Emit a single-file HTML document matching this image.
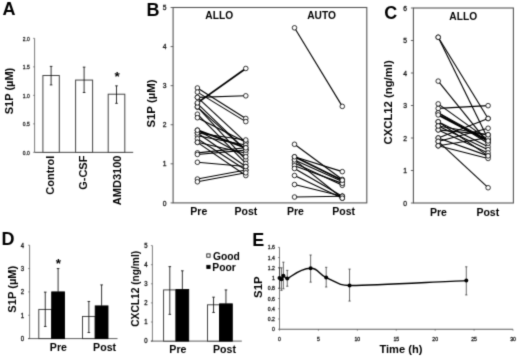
<!DOCTYPE html>
<html><head><meta charset="utf-8"><title>Figure</title>
<style>
html,body{margin:0;padding:0;background:#fff;}
body{width:520px;height:362px;overflow:hidden;font-family:"Liberation Sans",sans-serif;}
svg{display:block;font-family:"Liberation Sans",sans-serif;}
</style></head><body>
<svg width="520" height="362" viewBox="0 0 520 362">
<defs><filter id="soft" x="0" y="0" width="520" height="362" filterUnits="userSpaceOnUse" color-interpolation-filters="sRGB">
<feConvolveMatrix order="3" kernelMatrix="0.01917 0.10012 0.01917 0.10012 0.52283 0.10012 0.01917 0.10012 0.01917" divisor="1" edgeMode="duplicate" preserveAlpha="true"/>
</filter></defs>
<g filter="url(#soft)">
<rect x="0" y="0" width="520" height="362" fill="#fff"/>
<text x="2.60" y="14.90" font-size="18" font-weight="bold" text-anchor="start" fill="#000">A</text>
<line x1="34.60" y1="38.35" x2="34.60" y2="152.35" stroke="#444" stroke-width="0.7"/>
<line x1="34.60" y1="152.35" x2="133.20" y2="152.35" stroke="#333" stroke-width="0.9"/>
<line x1="33.10" y1="152.35" x2="34.60" y2="152.35" stroke="#444" stroke-width="0.6"/>
<text transform="translate(29.70 154.65) scale(0.8 1)" font-size="6.2" text-anchor="end" fill="#1a1a1a" stroke="#1a1a1a" stroke-width="0.3">0.0</text>
<line x1="33.10" y1="123.85" x2="34.60" y2="123.85" stroke="#444" stroke-width="0.6"/>
<text transform="translate(29.70 126.15) scale(0.8 1)" font-size="6.2" text-anchor="end" fill="#1a1a1a" stroke="#1a1a1a" stroke-width="0.3">0.5</text>
<line x1="33.10" y1="95.35" x2="34.60" y2="95.35" stroke="#444" stroke-width="0.6"/>
<text transform="translate(29.70 97.65) scale(0.8 1)" font-size="6.2" text-anchor="end" fill="#1a1a1a" stroke="#1a1a1a" stroke-width="0.3">1.0</text>
<line x1="33.10" y1="66.85" x2="34.60" y2="66.85" stroke="#444" stroke-width="0.6"/>
<text transform="translate(29.70 69.15) scale(0.8 1)" font-size="6.2" text-anchor="end" fill="#1a1a1a" stroke="#1a1a1a" stroke-width="0.3">1.5</text>
<line x1="33.10" y1="38.35" x2="34.60" y2="38.35" stroke="#444" stroke-width="0.6"/>
<text transform="translate(29.70 40.65) scale(0.8 1)" font-size="6.2" text-anchor="end" fill="#1a1a1a" stroke="#1a1a1a" stroke-width="0.3">2.0</text>
<rect x="42.90" y="75.51" width="16.40" height="76.84" fill="#fff" stroke="#444" stroke-width="1.0"/>
<line x1="51.10" y1="66.39" x2="51.10" y2="84.92" stroke="#111" stroke-width="0.85"/>
<line x1="49.80" y1="66.39" x2="52.40" y2="66.39" stroke="#111" stroke-width="0.85"/>
<line x1="49.80" y1="84.92" x2="52.40" y2="84.92" stroke="#111" stroke-width="0.85"/>
<rect x="75.60" y="80.07" width="17.00" height="72.28" fill="#fff" stroke="#444" stroke-width="1.0"/>
<line x1="84.10" y1="67.13" x2="84.10" y2="92.50" stroke="#111" stroke-width="0.85"/>
<line x1="82.80" y1="67.13" x2="85.40" y2="67.13" stroke="#111" stroke-width="0.85"/>
<line x1="82.80" y1="92.50" x2="85.40" y2="92.50" stroke="#111" stroke-width="0.85"/>
<rect x="108.20" y="94.21" width="16.60" height="58.14" fill="#fff" stroke="#444" stroke-width="1.0"/>
<line x1="116.50" y1="85.83" x2="116.50" y2="103.33" stroke="#111" stroke-width="0.85"/>
<line x1="115.20" y1="85.83" x2="117.80" y2="85.83" stroke="#111" stroke-width="0.85"/>
<line x1="115.20" y1="103.33" x2="117.80" y2="103.33" stroke="#111" stroke-width="0.85"/>
<text x="117.20" y="81.20" font-size="13.5" font-weight="bold" text-anchor="middle" fill="#000">*</text>
<text x="12.60" y="91.00" font-size="11" font-weight="bold" text-anchor="middle" fill="#000" transform="rotate(-90 12.60 91.00)">S1P (µM)</text>
<text x="54.50" y="155.60" font-size="11" font-weight="bold" text-anchor="end" fill="#000" transform="rotate(-90 54.50 155.60)">Control</text>
<text x="87.30" y="155.60" font-size="11" font-weight="bold" text-anchor="end" fill="#000" transform="rotate(-90 87.30 155.60)">G-CSF</text>
<text x="120.80" y="155.60" font-size="11" font-weight="bold" text-anchor="end" fill="#000" transform="rotate(-90 120.80 155.60)">AMD3100</text>
<text x="146.40" y="15.70" font-size="18" font-weight="bold" text-anchor="start" fill="#000">B</text>
<rect x="173.10" y="7.50" width="193.70" height="195.40" fill="none" stroke="#555" stroke-width="1.1"/>
<line x1="170.60" y1="202.90" x2="173.10" y2="202.90" stroke="#555" stroke-width="0.9"/>
<text transform="translate(166.60 205.50) scale(0.95 1)" font-size="7.1" text-anchor="end" fill="#1a1a1a" stroke="#1a1a1a" stroke-width="0.3">0</text>
<line x1="170.60" y1="163.82" x2="173.10" y2="163.82" stroke="#555" stroke-width="0.9"/>
<text transform="translate(166.60 166.42) scale(0.95 1)" font-size="7.1" text-anchor="end" fill="#1a1a1a" stroke="#1a1a1a" stroke-width="0.3">1</text>
<line x1="170.60" y1="124.74" x2="173.10" y2="124.74" stroke="#555" stroke-width="0.9"/>
<text transform="translate(166.60 127.34) scale(0.95 1)" font-size="7.1" text-anchor="end" fill="#1a1a1a" stroke="#1a1a1a" stroke-width="0.3">2</text>
<line x1="170.60" y1="85.66" x2="173.10" y2="85.66" stroke="#555" stroke-width="0.9"/>
<text transform="translate(166.60 88.26) scale(0.95 1)" font-size="7.1" text-anchor="end" fill="#1a1a1a" stroke="#1a1a1a" stroke-width="0.3">3</text>
<line x1="170.60" y1="46.58" x2="173.10" y2="46.58" stroke="#555" stroke-width="0.9"/>
<text transform="translate(166.60 49.18) scale(0.95 1)" font-size="7.1" text-anchor="end" fill="#1a1a1a" stroke="#1a1a1a" stroke-width="0.3">4</text>
<line x1="170.60" y1="7.50" x2="173.10" y2="7.50" stroke="#555" stroke-width="0.9"/>
<text transform="translate(166.60 10.10) scale(0.95 1)" font-size="7.1" text-anchor="end" fill="#1a1a1a" stroke="#1a1a1a" stroke-width="0.3">5</text>
<text x="155.20" y="103.50" font-size="11.4" font-weight="bold" text-anchor="middle" fill="#000" transform="rotate(-90 155.20 103.50)">S1P (µM)</text>
<text x="219.20" y="18.90" font-size="10.2" font-weight="bold" text-anchor="middle" fill="#000">ALLO</text>
<text x="321.60" y="18.90" font-size="10.2" font-weight="bold" text-anchor="middle" fill="#000">AUTO</text>
<text x="198.80" y="214.80" font-size="10.5" font-weight="bold" text-anchor="middle" fill="#000">Pre</text>
<text x="246.00" y="214.80" font-size="10.5" font-weight="bold" text-anchor="middle" fill="#000">Post</text>
<text x="295.40" y="214.80" font-size="10.5" font-weight="bold" text-anchor="middle" fill="#000">Pre</text>
<text x="343.70" y="214.80" font-size="10.5" font-weight="bold" text-anchor="middle" fill="#000">Post</text>
<line x1="197.40" y1="88.00" x2="245.80" y2="118.49" stroke="#000" stroke-width="1.1"/>
<line x1="197.40" y1="92.11" x2="245.80" y2="121.61" stroke="#000" stroke-width="1.1"/>
<line x1="197.40" y1="97.38" x2="245.80" y2="142.33" stroke="#000" stroke-width="1.1"/>
<line x1="197.40" y1="97.38" x2="245.80" y2="95.82" stroke="#000" stroke-width="1.1"/>
<line x1="197.40" y1="107.15" x2="245.80" y2="150.14" stroke="#000" stroke-width="1.1"/>
<line x1="197.40" y1="103.64" x2="245.80" y2="150.14" stroke="#000" stroke-width="1.1"/>
<line x1="197.40" y1="106.76" x2="245.80" y2="159.91" stroke="#000" stroke-width="1.1"/>
<line x1="197.40" y1="114.19" x2="245.80" y2="163.43" stroke="#000" stroke-width="1.1"/>
<line x1="197.40" y1="117.71" x2="245.80" y2="142.33" stroke="#000" stroke-width="1.1"/>
<line x1="197.40" y1="132.95" x2="245.80" y2="139.98" stroke="#000" stroke-width="1.1"/>
<line x1="197.40" y1="135.68" x2="245.80" y2="145.06" stroke="#000" stroke-width="1.1"/>
<line x1="197.40" y1="138.81" x2="245.80" y2="170.07" stroke="#000" stroke-width="1.1"/>
<line x1="197.40" y1="142.33" x2="245.80" y2="175.54" stroke="#000" stroke-width="1.1"/>
<line x1="197.40" y1="142.33" x2="245.80" y2="153.27" stroke="#000" stroke-width="1.1"/>
<line x1="197.40" y1="152.88" x2="245.80" y2="147.80" stroke="#000" stroke-width="1.1"/>
<line x1="197.40" y1="154.44" x2="245.80" y2="150.14" stroke="#000" stroke-width="1.1"/>
<line x1="197.40" y1="162.26" x2="245.80" y2="166.56" stroke="#000" stroke-width="1.1"/>
<line x1="197.40" y1="179.06" x2="245.80" y2="170.07" stroke="#000" stroke-width="1.1"/>
<line x1="197.40" y1="181.80" x2="245.80" y2="172.81" stroke="#000" stroke-width="1.1"/>
<line x1="197.40" y1="130.21" x2="245.80" y2="156.79" stroke="#000" stroke-width="1.1"/>
<line x1="197.40" y1="132.95" x2="245.80" y2="166.56" stroke="#000" stroke-width="1.1"/>
<line x1="197.40" y1="102.86" x2="245.80" y2="68.46" stroke="#000" stroke-width="1.8"/>
<line x1="197.40" y1="130.21" x2="245.80" y2="147.80" stroke="#000" stroke-width="1.8"/>
<circle cx="197.40" cy="88.00" r="2.3" fill="#fff" stroke="#000" stroke-width="0.8"/>
<circle cx="245.80" cy="118.49" r="2.3" fill="#fff" stroke="#000" stroke-width="0.8"/>
<circle cx="197.40" cy="92.11" r="2.3" fill="#fff" stroke="#000" stroke-width="0.8"/>
<circle cx="245.80" cy="121.61" r="2.3" fill="#fff" stroke="#000" stroke-width="0.8"/>
<circle cx="197.40" cy="97.38" r="2.3" fill="#fff" stroke="#000" stroke-width="0.8"/>
<circle cx="245.80" cy="142.33" r="2.3" fill="#fff" stroke="#000" stroke-width="0.8"/>
<circle cx="197.40" cy="97.38" r="2.3" fill="#fff" stroke="#000" stroke-width="0.8"/>
<circle cx="245.80" cy="95.82" r="2.3" fill="#fff" stroke="#000" stroke-width="0.8"/>
<circle cx="197.40" cy="107.15" r="2.3" fill="#fff" stroke="#000" stroke-width="0.8"/>
<circle cx="245.80" cy="150.14" r="2.3" fill="#fff" stroke="#000" stroke-width="0.8"/>
<circle cx="197.40" cy="103.64" r="2.3" fill="#fff" stroke="#000" stroke-width="0.8"/>
<circle cx="245.80" cy="150.14" r="2.3" fill="#fff" stroke="#000" stroke-width="0.8"/>
<circle cx="197.40" cy="106.76" r="2.3" fill="#fff" stroke="#000" stroke-width="0.8"/>
<circle cx="245.80" cy="159.91" r="2.3" fill="#fff" stroke="#000" stroke-width="0.8"/>
<circle cx="197.40" cy="114.19" r="2.3" fill="#fff" stroke="#000" stroke-width="0.8"/>
<circle cx="245.80" cy="163.43" r="2.3" fill="#fff" stroke="#000" stroke-width="0.8"/>
<circle cx="197.40" cy="117.71" r="2.3" fill="#fff" stroke="#000" stroke-width="0.8"/>
<circle cx="245.80" cy="142.33" r="2.3" fill="#fff" stroke="#000" stroke-width="0.8"/>
<circle cx="197.40" cy="132.95" r="2.3" fill="#fff" stroke="#000" stroke-width="0.8"/>
<circle cx="245.80" cy="139.98" r="2.3" fill="#fff" stroke="#000" stroke-width="0.8"/>
<circle cx="197.40" cy="135.68" r="2.3" fill="#fff" stroke="#000" stroke-width="0.8"/>
<circle cx="245.80" cy="145.06" r="2.3" fill="#fff" stroke="#000" stroke-width="0.8"/>
<circle cx="197.40" cy="138.81" r="2.3" fill="#fff" stroke="#000" stroke-width="0.8"/>
<circle cx="245.80" cy="170.07" r="2.3" fill="#fff" stroke="#000" stroke-width="0.8"/>
<circle cx="197.40" cy="142.33" r="2.3" fill="#fff" stroke="#000" stroke-width="0.8"/>
<circle cx="245.80" cy="175.54" r="2.3" fill="#fff" stroke="#000" stroke-width="0.8"/>
<circle cx="197.40" cy="142.33" r="2.3" fill="#fff" stroke="#000" stroke-width="0.8"/>
<circle cx="245.80" cy="153.27" r="2.3" fill="#fff" stroke="#000" stroke-width="0.8"/>
<circle cx="197.40" cy="152.88" r="2.3" fill="#fff" stroke="#000" stroke-width="0.8"/>
<circle cx="245.80" cy="147.80" r="2.3" fill="#fff" stroke="#000" stroke-width="0.8"/>
<circle cx="197.40" cy="154.44" r="2.3" fill="#fff" stroke="#000" stroke-width="0.8"/>
<circle cx="245.80" cy="150.14" r="2.3" fill="#fff" stroke="#000" stroke-width="0.8"/>
<circle cx="197.40" cy="162.26" r="2.3" fill="#fff" stroke="#000" stroke-width="0.8"/>
<circle cx="245.80" cy="166.56" r="2.3" fill="#fff" stroke="#000" stroke-width="0.8"/>
<circle cx="197.40" cy="179.06" r="2.3" fill="#fff" stroke="#000" stroke-width="0.8"/>
<circle cx="245.80" cy="170.07" r="2.3" fill="#fff" stroke="#000" stroke-width="0.8"/>
<circle cx="197.40" cy="181.80" r="2.3" fill="#fff" stroke="#000" stroke-width="0.8"/>
<circle cx="245.80" cy="172.81" r="2.3" fill="#fff" stroke="#000" stroke-width="0.8"/>
<circle cx="197.40" cy="130.21" r="2.3" fill="#fff" stroke="#000" stroke-width="0.8"/>
<circle cx="245.80" cy="156.79" r="2.3" fill="#fff" stroke="#000" stroke-width="0.8"/>
<circle cx="197.40" cy="132.95" r="2.3" fill="#fff" stroke="#000" stroke-width="0.8"/>
<circle cx="245.80" cy="166.56" r="2.3" fill="#fff" stroke="#000" stroke-width="0.8"/>
<circle cx="197.40" cy="102.86" r="2.3" fill="#fff" stroke="#000" stroke-width="0.8"/>
<circle cx="245.80" cy="68.46" r="2.3" fill="#fff" stroke="#000" stroke-width="0.8"/>
<circle cx="197.40" cy="130.21" r="2.3" fill="#fff" stroke="#000" stroke-width="0.8"/>
<circle cx="245.80" cy="147.80" r="2.3" fill="#fff" stroke="#000" stroke-width="0.8"/>
<line x1="294.50" y1="27.82" x2="342.30" y2="106.37" stroke="#000" stroke-width="1.1"/>
<line x1="294.50" y1="144.28" x2="342.30" y2="179.45" stroke="#000" stroke-width="1.1"/>
<line x1="294.50" y1="159.91" x2="342.30" y2="181.41" stroke="#000" stroke-width="1.1"/>
<line x1="294.50" y1="163.04" x2="342.30" y2="185.31" stroke="#000" stroke-width="1.1"/>
<line x1="294.50" y1="165.77" x2="342.30" y2="183.36" stroke="#000" stroke-width="1.1"/>
<line x1="294.50" y1="168.51" x2="342.30" y2="196.26" stroke="#000" stroke-width="1.1"/>
<line x1="294.50" y1="175.54" x2="342.30" y2="198.21" stroke="#000" stroke-width="1.1"/>
<line x1="294.50" y1="184.53" x2="342.30" y2="196.26" stroke="#000" stroke-width="1.1"/>
<line x1="294.50" y1="197.04" x2="342.30" y2="196.26" stroke="#000" stroke-width="1.1"/>
<line x1="294.50" y1="156.79" x2="342.30" y2="171.64" stroke="#000" stroke-width="1.1"/>
<line x1="294.50" y1="159.91" x2="342.30" y2="198.21" stroke="#000" stroke-width="1.1"/>
<line x1="294.50" y1="156.79" x2="342.30" y2="180.23" stroke="#000" stroke-width="1.8"/>
<circle cx="294.50" cy="27.82" r="2.3" fill="#fff" stroke="#000" stroke-width="0.8"/>
<circle cx="342.30" cy="106.37" r="2.3" fill="#fff" stroke="#000" stroke-width="0.8"/>
<circle cx="294.50" cy="144.28" r="2.3" fill="#fff" stroke="#000" stroke-width="0.8"/>
<circle cx="342.30" cy="179.45" r="2.3" fill="#fff" stroke="#000" stroke-width="0.8"/>
<circle cx="294.50" cy="159.91" r="2.3" fill="#fff" stroke="#000" stroke-width="0.8"/>
<circle cx="342.30" cy="181.41" r="2.3" fill="#fff" stroke="#000" stroke-width="0.8"/>
<circle cx="294.50" cy="163.04" r="2.3" fill="#fff" stroke="#000" stroke-width="0.8"/>
<circle cx="342.30" cy="185.31" r="2.3" fill="#fff" stroke="#000" stroke-width="0.8"/>
<circle cx="294.50" cy="165.77" r="2.3" fill="#fff" stroke="#000" stroke-width="0.8"/>
<circle cx="342.30" cy="183.36" r="2.3" fill="#fff" stroke="#000" stroke-width="0.8"/>
<circle cx="294.50" cy="168.51" r="2.3" fill="#fff" stroke="#000" stroke-width="0.8"/>
<circle cx="342.30" cy="196.26" r="2.3" fill="#fff" stroke="#000" stroke-width="0.8"/>
<circle cx="294.50" cy="175.54" r="2.3" fill="#fff" stroke="#000" stroke-width="0.8"/>
<circle cx="342.30" cy="198.21" r="2.3" fill="#fff" stroke="#000" stroke-width="0.8"/>
<circle cx="294.50" cy="184.53" r="2.3" fill="#fff" stroke="#000" stroke-width="0.8"/>
<circle cx="342.30" cy="196.26" r="2.3" fill="#fff" stroke="#000" stroke-width="0.8"/>
<circle cx="294.50" cy="197.04" r="2.3" fill="#fff" stroke="#000" stroke-width="0.8"/>
<circle cx="342.30" cy="196.26" r="2.3" fill="#fff" stroke="#000" stroke-width="0.8"/>
<circle cx="294.50" cy="156.79" r="2.3" fill="#fff" stroke="#000" stroke-width="0.8"/>
<circle cx="342.30" cy="171.64" r="2.3" fill="#fff" stroke="#000" stroke-width="0.8"/>
<circle cx="294.50" cy="159.91" r="2.3" fill="#fff" stroke="#000" stroke-width="0.8"/>
<circle cx="342.30" cy="198.21" r="2.3" fill="#fff" stroke="#000" stroke-width="0.8"/>
<circle cx="294.50" cy="156.79" r="2.3" fill="#fff" stroke="#000" stroke-width="0.8"/>
<circle cx="342.30" cy="180.23" r="2.3" fill="#fff" stroke="#000" stroke-width="0.8"/>
<text x="384.20" y="19.20" font-size="18" font-weight="bold" text-anchor="start" fill="#000">C</text>
<rect x="413.40" y="8.00" width="100.00" height="195.00" fill="none" stroke="#555" stroke-width="1.1"/>
<line x1="410.90" y1="203.00" x2="413.40" y2="203.00" stroke="#555" stroke-width="0.9"/>
<text transform="translate(407.00 205.70) scale(0.95 1)" font-size="7.1" text-anchor="end" fill="#1a1a1a" stroke="#1a1a1a" stroke-width="0.3">0</text>
<line x1="410.90" y1="170.50" x2="413.40" y2="170.50" stroke="#555" stroke-width="0.9"/>
<text transform="translate(407.00 173.20) scale(0.95 1)" font-size="7.1" text-anchor="end" fill="#1a1a1a" stroke="#1a1a1a" stroke-width="0.3">1</text>
<line x1="410.90" y1="138.00" x2="413.40" y2="138.00" stroke="#555" stroke-width="0.9"/>
<text transform="translate(407.00 140.70) scale(0.95 1)" font-size="7.1" text-anchor="end" fill="#1a1a1a" stroke="#1a1a1a" stroke-width="0.3">2</text>
<line x1="410.90" y1="105.50" x2="413.40" y2="105.50" stroke="#555" stroke-width="0.9"/>
<text transform="translate(407.00 108.20) scale(0.95 1)" font-size="7.1" text-anchor="end" fill="#1a1a1a" stroke="#1a1a1a" stroke-width="0.3">3</text>
<line x1="410.90" y1="73.00" x2="413.40" y2="73.00" stroke="#555" stroke-width="0.9"/>
<text transform="translate(407.00 75.70) scale(0.95 1)" font-size="7.1" text-anchor="end" fill="#1a1a1a" stroke="#1a1a1a" stroke-width="0.3">4</text>
<line x1="410.90" y1="40.50" x2="413.40" y2="40.50" stroke="#555" stroke-width="0.9"/>
<text transform="translate(407.00 43.20) scale(0.95 1)" font-size="7.1" text-anchor="end" fill="#1a1a1a" stroke="#1a1a1a" stroke-width="0.3">5</text>
<line x1="410.90" y1="8.00" x2="413.40" y2="8.00" stroke="#555" stroke-width="0.9"/>
<text transform="translate(407.00 10.70) scale(0.95 1)" font-size="7.1" text-anchor="end" fill="#1a1a1a" stroke="#1a1a1a" stroke-width="0.3">6</text>
<text x="391.80" y="102.40" font-size="11.3" font-weight="bold" text-anchor="middle" fill="#000" transform="rotate(-90 391.80 102.40)">CXCL12 (ng/ml)</text>
<text x="463.20" y="20.30" font-size="10.2" font-weight="bold" text-anchor="middle" fill="#000">ALLO</text>
<text x="438.50" y="215.80" font-size="10.5" font-weight="bold" text-anchor="middle" fill="#000">Pre</text>
<text x="487.80" y="215.80" font-size="10.5" font-weight="bold" text-anchor="middle" fill="#000">Post</text>
<line x1="438.20" y1="37.25" x2="488.10" y2="118.50" stroke="#000" stroke-width="1.1"/>
<line x1="438.20" y1="37.25" x2="488.10" y2="138.97" stroke="#000" stroke-width="1.1"/>
<line x1="438.20" y1="81.12" x2="488.10" y2="142.88" stroke="#000" stroke-width="1.1"/>
<line x1="438.20" y1="108.42" x2="488.10" y2="105.66" stroke="#000" stroke-width="1.1"/>
<line x1="438.20" y1="103.88" x2="488.10" y2="139.62" stroke="#000" stroke-width="1.1"/>
<line x1="438.20" y1="112.81" x2="488.10" y2="140.28" stroke="#000" stroke-width="1.1"/>
<line x1="438.20" y1="121.75" x2="488.10" y2="146.78" stroke="#000" stroke-width="1.1"/>
<line x1="438.20" y1="125.97" x2="488.10" y2="149.70" stroke="#000" stroke-width="1.1"/>
<line x1="438.20" y1="129.88" x2="488.10" y2="152.95" stroke="#000" stroke-width="1.1"/>
<line x1="438.20" y1="129.88" x2="488.10" y2="134.75" stroke="#000" stroke-width="1.1"/>
<line x1="438.20" y1="138.00" x2="488.10" y2="118.50" stroke="#000" stroke-width="1.1"/>
<line x1="438.20" y1="138.00" x2="488.10" y2="155.88" stroke="#000" stroke-width="1.1"/>
<line x1="438.20" y1="141.41" x2="488.10" y2="128.25" stroke="#000" stroke-width="1.1"/>
<line x1="438.20" y1="141.41" x2="488.10" y2="187.72" stroke="#000" stroke-width="1.1"/>
<line x1="438.20" y1="145.80" x2="488.10" y2="158.47" stroke="#000" stroke-width="1.1"/>
<line x1="438.20" y1="145.80" x2="488.10" y2="137.68" stroke="#000" stroke-width="1.1"/>
<line x1="438.20" y1="112.81" x2="488.10" y2="143.20" stroke="#000" stroke-width="1.1"/>
<line x1="438.20" y1="121.75" x2="488.10" y2="155.88" stroke="#000" stroke-width="1.1"/>
<line x1="438.20" y1="125.97" x2="488.10" y2="134.75" stroke="#000" stroke-width="1.1"/>
<line x1="438.20" y1="114.92" x2="488.10" y2="140.93" stroke="#000" stroke-width="1.8"/>
<circle cx="438.20" cy="37.25" r="2.3" fill="#fff" stroke="#000" stroke-width="0.8"/>
<circle cx="488.10" cy="118.50" r="2.3" fill="#fff" stroke="#000" stroke-width="0.8"/>
<circle cx="438.20" cy="37.25" r="2.3" fill="#fff" stroke="#000" stroke-width="0.8"/>
<circle cx="488.10" cy="138.97" r="2.3" fill="#fff" stroke="#000" stroke-width="0.8"/>
<circle cx="438.20" cy="81.12" r="2.3" fill="#fff" stroke="#000" stroke-width="0.8"/>
<circle cx="488.10" cy="142.88" r="2.3" fill="#fff" stroke="#000" stroke-width="0.8"/>
<circle cx="438.20" cy="108.42" r="2.3" fill="#fff" stroke="#000" stroke-width="0.8"/>
<circle cx="488.10" cy="105.66" r="2.3" fill="#fff" stroke="#000" stroke-width="0.8"/>
<circle cx="438.20" cy="103.88" r="2.3" fill="#fff" stroke="#000" stroke-width="0.8"/>
<circle cx="488.10" cy="139.62" r="2.3" fill="#fff" stroke="#000" stroke-width="0.8"/>
<circle cx="438.20" cy="112.81" r="2.3" fill="#fff" stroke="#000" stroke-width="0.8"/>
<circle cx="488.10" cy="140.28" r="2.3" fill="#fff" stroke="#000" stroke-width="0.8"/>
<circle cx="438.20" cy="121.75" r="2.3" fill="#fff" stroke="#000" stroke-width="0.8"/>
<circle cx="488.10" cy="146.78" r="2.3" fill="#fff" stroke="#000" stroke-width="0.8"/>
<circle cx="438.20" cy="125.97" r="2.3" fill="#fff" stroke="#000" stroke-width="0.8"/>
<circle cx="488.10" cy="149.70" r="2.3" fill="#fff" stroke="#000" stroke-width="0.8"/>
<circle cx="438.20" cy="129.88" r="2.3" fill="#fff" stroke="#000" stroke-width="0.8"/>
<circle cx="488.10" cy="152.95" r="2.3" fill="#fff" stroke="#000" stroke-width="0.8"/>
<circle cx="438.20" cy="129.88" r="2.3" fill="#fff" stroke="#000" stroke-width="0.8"/>
<circle cx="488.10" cy="134.75" r="2.3" fill="#fff" stroke="#000" stroke-width="0.8"/>
<circle cx="438.20" cy="138.00" r="2.3" fill="#fff" stroke="#000" stroke-width="0.8"/>
<circle cx="488.10" cy="118.50" r="2.3" fill="#fff" stroke="#000" stroke-width="0.8"/>
<circle cx="438.20" cy="138.00" r="2.3" fill="#fff" stroke="#000" stroke-width="0.8"/>
<circle cx="488.10" cy="155.88" r="2.3" fill="#fff" stroke="#000" stroke-width="0.8"/>
<circle cx="438.20" cy="141.41" r="2.3" fill="#fff" stroke="#000" stroke-width="0.8"/>
<circle cx="488.10" cy="128.25" r="2.3" fill="#fff" stroke="#000" stroke-width="0.8"/>
<circle cx="438.20" cy="141.41" r="2.3" fill="#fff" stroke="#000" stroke-width="0.8"/>
<circle cx="488.10" cy="187.72" r="2.3" fill="#fff" stroke="#000" stroke-width="0.8"/>
<circle cx="438.20" cy="145.80" r="2.3" fill="#fff" stroke="#000" stroke-width="0.8"/>
<circle cx="488.10" cy="158.47" r="2.3" fill="#fff" stroke="#000" stroke-width="0.8"/>
<circle cx="438.20" cy="145.80" r="2.3" fill="#fff" stroke="#000" stroke-width="0.8"/>
<circle cx="488.10" cy="137.68" r="2.3" fill="#fff" stroke="#000" stroke-width="0.8"/>
<circle cx="438.20" cy="112.81" r="2.3" fill="#fff" stroke="#000" stroke-width="0.8"/>
<circle cx="488.10" cy="143.20" r="2.3" fill="#fff" stroke="#000" stroke-width="0.8"/>
<circle cx="438.20" cy="121.75" r="2.3" fill="#fff" stroke="#000" stroke-width="0.8"/>
<circle cx="488.10" cy="155.88" r="2.3" fill="#fff" stroke="#000" stroke-width="0.8"/>
<circle cx="438.20" cy="125.97" r="2.3" fill="#fff" stroke="#000" stroke-width="0.8"/>
<circle cx="488.10" cy="134.75" r="2.3" fill="#fff" stroke="#000" stroke-width="0.8"/>
<circle cx="438.20" cy="114.92" r="2.3" fill="#fff" stroke="#000" stroke-width="0.8"/>
<circle cx="488.10" cy="140.93" r="2.3" fill="#fff" stroke="#000" stroke-width="0.8"/>
<text x="1.40" y="244.90" font-size="18" font-weight="bold" text-anchor="start" fill="#000">D</text>
<line x1="29.60" y1="245.20" x2="29.60" y2="338.60" stroke="#444" stroke-width="0.7"/>
<line x1="28.10" y1="338.60" x2="117.50" y2="338.60" stroke="#333" stroke-width="0.8"/>
<line x1="28.10" y1="338.60" x2="29.60" y2="338.60" stroke="#444" stroke-width="0.6"/>
<text transform="translate(24.10 340.90) scale(0.95 1)" font-size="6.3" text-anchor="end" fill="#1a1a1a" stroke="#1a1a1a" stroke-width="0.3">0</text>
<line x1="28.10" y1="315.25" x2="29.60" y2="315.25" stroke="#444" stroke-width="0.6"/>
<text transform="translate(24.10 317.55) scale(0.95 1)" font-size="6.3" text-anchor="end" fill="#1a1a1a" stroke="#1a1a1a" stroke-width="0.3">1</text>
<line x1="28.10" y1="291.90" x2="29.60" y2="291.90" stroke="#444" stroke-width="0.6"/>
<text transform="translate(24.10 294.20) scale(0.95 1)" font-size="6.3" text-anchor="end" fill="#1a1a1a" stroke="#1a1a1a" stroke-width="0.3">2</text>
<line x1="28.10" y1="268.55" x2="29.60" y2="268.55" stroke="#444" stroke-width="0.6"/>
<text transform="translate(24.10 270.85) scale(0.95 1)" font-size="6.3" text-anchor="end" fill="#1a1a1a" stroke="#1a1a1a" stroke-width="0.3">3</text>
<line x1="28.10" y1="245.20" x2="29.60" y2="245.20" stroke="#444" stroke-width="0.6"/>
<text transform="translate(24.10 247.50) scale(0.95 1)" font-size="6.3" text-anchor="end" fill="#1a1a1a" stroke="#1a1a1a" stroke-width="0.3">4</text>
<text x="15.80" y="289.20" font-size="11.1" font-weight="bold" text-anchor="middle" fill="#000" transform="rotate(-90 15.80 289.20)">S1P (µM)</text>
<rect x="38.80" y="309.41" width="12.90" height="29.19" fill="#fff" stroke="#333" stroke-width="0.9"/>
<line x1="45.25" y1="292.13" x2="45.25" y2="326.46" stroke="#111" stroke-width="0.85"/>
<line x1="43.95" y1="292.13" x2="46.55" y2="292.13" stroke="#111" stroke-width="0.85"/>
<line x1="43.95" y1="326.46" x2="46.55" y2="326.46" stroke="#111" stroke-width="0.85"/>
<rect x="51.70" y="291.90" width="12.80" height="46.70" fill="#000" stroke="#000" stroke-width="0.9"/>
<line x1="58.10" y1="268.55" x2="58.10" y2="291.90" stroke="#111" stroke-width="0.85"/>
<line x1="56.80" y1="268.55" x2="59.40" y2="268.55" stroke="#111" stroke-width="0.85"/>
<rect x="82.50" y="316.42" width="12.70" height="22.18" fill="#fff" stroke="#333" stroke-width="0.9"/>
<line x1="88.85" y1="301.47" x2="88.85" y2="332.53" stroke="#111" stroke-width="0.85"/>
<line x1="87.55" y1="301.47" x2="90.15" y2="301.47" stroke="#111" stroke-width="0.85"/>
<line x1="87.55" y1="332.53" x2="90.15" y2="332.53" stroke="#111" stroke-width="0.85"/>
<rect x="95.20" y="305.91" width="12.80" height="32.69" fill="#000" stroke="#000" stroke-width="0.9"/>
<line x1="101.60" y1="284.90" x2="101.60" y2="305.91" stroke="#111" stroke-width="0.85"/>
<line x1="100.30" y1="284.90" x2="102.90" y2="284.90" stroke="#111" stroke-width="0.85"/>
<text x="58.30" y="268.00" font-size="13.5" font-weight="bold" text-anchor="middle" fill="#000">*</text>
<text x="58.40" y="351.20" font-size="10.6" font-weight="bold" text-anchor="middle" fill="#000">Pre</text>
<text x="104.60" y="351.20" font-size="10.6" font-weight="bold" text-anchor="middle" fill="#000">Post</text>
<line x1="152.40" y1="245.60" x2="152.40" y2="341.10" stroke="#444" stroke-width="0.7"/>
<line x1="150.90" y1="341.10" x2="241.80" y2="341.10" stroke="#333" stroke-width="0.8"/>
<line x1="150.90" y1="341.10" x2="152.40" y2="341.10" stroke="#444" stroke-width="0.6"/>
<text transform="translate(147.60 343.40) scale(0.95 1)" font-size="6.3" text-anchor="end" fill="#1a1a1a" stroke="#1a1a1a" stroke-width="0.3">0</text>
<line x1="150.90" y1="322.00" x2="152.40" y2="322.00" stroke="#444" stroke-width="0.6"/>
<text transform="translate(147.60 324.30) scale(0.95 1)" font-size="6.3" text-anchor="end" fill="#1a1a1a" stroke="#1a1a1a" stroke-width="0.3">1</text>
<line x1="150.90" y1="302.90" x2="152.40" y2="302.90" stroke="#444" stroke-width="0.6"/>
<text transform="translate(147.60 305.20) scale(0.95 1)" font-size="6.3" text-anchor="end" fill="#1a1a1a" stroke="#1a1a1a" stroke-width="0.3">2</text>
<line x1="150.90" y1="283.80" x2="152.40" y2="283.80" stroke="#444" stroke-width="0.6"/>
<text transform="translate(147.60 286.10) scale(0.95 1)" font-size="6.3" text-anchor="end" fill="#1a1a1a" stroke="#1a1a1a" stroke-width="0.3">3</text>
<line x1="150.90" y1="264.70" x2="152.40" y2="264.70" stroke="#444" stroke-width="0.6"/>
<text transform="translate(147.60 267.00) scale(0.95 1)" font-size="6.3" text-anchor="end" fill="#1a1a1a" stroke="#1a1a1a" stroke-width="0.3">4</text>
<line x1="150.90" y1="245.60" x2="152.40" y2="245.60" stroke="#444" stroke-width="0.6"/>
<text transform="translate(147.60 247.90) scale(0.95 1)" font-size="6.3" text-anchor="end" fill="#1a1a1a" stroke="#1a1a1a" stroke-width="0.3">5</text>
<text x="139.20" y="288.80" font-size="10.2" font-weight="bold" text-anchor="middle" fill="#000" transform="rotate(-90 139.20 288.80)">CXCL12 (ng/ml)</text>
<rect x="163.60" y="289.91" width="12.40" height="51.19" fill="#fff" stroke="#333" stroke-width="0.9"/>
<line x1="169.80" y1="266.61" x2="169.80" y2="314.36" stroke="#111" stroke-width="0.85"/>
<line x1="168.50" y1="266.61" x2="171.10" y2="266.61" stroke="#111" stroke-width="0.85"/>
<line x1="168.50" y1="314.36" x2="171.10" y2="314.36" stroke="#111" stroke-width="0.85"/>
<rect x="176.00" y="289.53" width="12.70" height="51.57" fill="#000" stroke="#000" stroke-width="0.9"/>
<line x1="182.35" y1="270.81" x2="182.35" y2="289.53" stroke="#111" stroke-width="0.85"/>
<line x1="181.05" y1="270.81" x2="183.65" y2="270.81" stroke="#111" stroke-width="0.85"/>
<rect x="207.50" y="304.81" width="12.10" height="36.29" fill="#fff" stroke="#333" stroke-width="0.9"/>
<line x1="213.55" y1="297.17" x2="213.55" y2="312.45" stroke="#111" stroke-width="0.85"/>
<line x1="212.25" y1="297.17" x2="214.85" y2="297.17" stroke="#111" stroke-width="0.85"/>
<line x1="212.25" y1="312.45" x2="214.85" y2="312.45" stroke="#111" stroke-width="0.85"/>
<rect x="219.60" y="303.86" width="12.70" height="37.25" fill="#000" stroke="#000" stroke-width="0.9"/>
<line x1="225.95" y1="289.91" x2="225.95" y2="303.86" stroke="#111" stroke-width="0.85"/>
<line x1="224.65" y1="289.91" x2="227.25" y2="289.91" stroke="#111" stroke-width="0.85"/>
<text x="177.90" y="353.30" font-size="10.6" font-weight="bold" text-anchor="middle" fill="#000">Pre</text>
<text x="224.50" y="353.30" font-size="10.6" font-weight="bold" text-anchor="middle" fill="#000">Post</text>
<rect x="206.80" y="253.90" width="3.30" height="3.30" fill="#fff" stroke="#000" stroke-width="0.8"/>
<text x="213.00" y="260.10" font-size="10.3" font-weight="bold" text-anchor="start" fill="#000">Good</text>
<rect x="206.80" y="265.30" width="3.30" height="3.30" fill="#000" stroke="#000" stroke-width="0.8"/>
<text x="212.30" y="271.10" font-size="10.3" font-weight="bold" text-anchor="start" fill="#000">Poor</text>
<text x="252.30" y="246.20" font-size="18" font-weight="bold" text-anchor="start" fill="#000">E</text>
<line x1="279.50" y1="247.33" x2="279.50" y2="329.25" stroke="#444" stroke-width="0.7"/>
<line x1="279.50" y1="329.25" x2="512.99" y2="329.25" stroke="#333" stroke-width="0.8"/>
<line x1="278.00" y1="329.25" x2="279.50" y2="329.25" stroke="#444" stroke-width="0.6"/>
<text transform="translate(274.90 331.25) scale(0.9 1)" font-size="5.7" text-anchor="end" fill="#1a1a1a" stroke="#1a1a1a" stroke-width="0.3">0</text>
<line x1="278.00" y1="319.01" x2="279.50" y2="319.01" stroke="#444" stroke-width="0.6"/>
<text transform="translate(274.90 321.01) scale(0.9 1)" font-size="5.7" text-anchor="end" fill="#1a1a1a" stroke="#1a1a1a" stroke-width="0.3">0.2</text>
<line x1="278.00" y1="308.77" x2="279.50" y2="308.77" stroke="#444" stroke-width="0.6"/>
<text transform="translate(274.90 310.77) scale(0.9 1)" font-size="5.7" text-anchor="end" fill="#1a1a1a" stroke="#1a1a1a" stroke-width="0.3">0.4</text>
<line x1="278.00" y1="298.53" x2="279.50" y2="298.53" stroke="#444" stroke-width="0.6"/>
<text transform="translate(274.90 300.53) scale(0.9 1)" font-size="5.7" text-anchor="end" fill="#1a1a1a" stroke="#1a1a1a" stroke-width="0.3">0.6</text>
<line x1="278.00" y1="288.29" x2="279.50" y2="288.29" stroke="#444" stroke-width="0.6"/>
<text transform="translate(274.90 290.29) scale(0.9 1)" font-size="5.7" text-anchor="end" fill="#1a1a1a" stroke="#1a1a1a" stroke-width="0.3">0.8</text>
<line x1="278.00" y1="278.05" x2="279.50" y2="278.05" stroke="#444" stroke-width="0.6"/>
<text transform="translate(274.90 280.05) scale(0.9 1)" font-size="5.7" text-anchor="end" fill="#1a1a1a" stroke="#1a1a1a" stroke-width="0.3">1</text>
<line x1="278.00" y1="267.81" x2="279.50" y2="267.81" stroke="#444" stroke-width="0.6"/>
<text transform="translate(274.90 269.81) scale(0.9 1)" font-size="5.7" text-anchor="end" fill="#1a1a1a" stroke="#1a1a1a" stroke-width="0.3">1.2</text>
<line x1="278.00" y1="257.57" x2="279.50" y2="257.57" stroke="#444" stroke-width="0.6"/>
<text transform="translate(274.90 259.57) scale(0.9 1)" font-size="5.7" text-anchor="end" fill="#1a1a1a" stroke="#1a1a1a" stroke-width="0.3">1.4</text>
<line x1="278.00" y1="247.33" x2="279.50" y2="247.33" stroke="#444" stroke-width="0.6"/>
<text transform="translate(274.90 249.33) scale(0.9 1)" font-size="5.7" text-anchor="end" fill="#1a1a1a" stroke="#1a1a1a" stroke-width="0.3">1.6</text>
<line x1="279.50" y1="329.25" x2="279.50" y2="330.75" stroke="#444" stroke-width="0.6"/>
<text transform="translate(279.50 340.80) scale(0.9 1)" font-size="5.7" text-anchor="middle" fill="#1a1a1a" stroke="#1a1a1a" stroke-width="0.3">0</text>
<line x1="318.42" y1="329.25" x2="318.42" y2="330.75" stroke="#444" stroke-width="0.6"/>
<text transform="translate(318.42 340.80) scale(0.9 1)" font-size="5.7" text-anchor="middle" fill="#1a1a1a" stroke="#1a1a1a" stroke-width="0.3">5</text>
<line x1="357.33" y1="329.25" x2="357.33" y2="330.75" stroke="#444" stroke-width="0.6"/>
<text transform="translate(357.33 340.80) scale(0.9 1)" font-size="5.7" text-anchor="middle" fill="#1a1a1a" stroke="#1a1a1a" stroke-width="0.3">10</text>
<line x1="396.25" y1="329.25" x2="396.25" y2="330.75" stroke="#444" stroke-width="0.6"/>
<text transform="translate(396.25 340.80) scale(0.9 1)" font-size="5.7" text-anchor="middle" fill="#1a1a1a" stroke="#1a1a1a" stroke-width="0.3">15</text>
<line x1="435.16" y1="329.25" x2="435.16" y2="330.75" stroke="#444" stroke-width="0.6"/>
<text transform="translate(435.16 340.80) scale(0.9 1)" font-size="5.7" text-anchor="middle" fill="#1a1a1a" stroke="#1a1a1a" stroke-width="0.3">20</text>
<line x1="474.08" y1="329.25" x2="474.08" y2="330.75" stroke="#444" stroke-width="0.6"/>
<text transform="translate(474.08 340.80) scale(0.9 1)" font-size="5.7" text-anchor="middle" fill="#1a1a1a" stroke="#1a1a1a" stroke-width="0.3">25</text>
<line x1="512.99" y1="329.25" x2="512.99" y2="330.75" stroke="#444" stroke-width="0.6"/>
<text transform="translate(512.99 340.80) scale(0.9 1)" font-size="5.7" text-anchor="middle" fill="#1a1a1a" stroke="#1a1a1a" stroke-width="0.3">30</text>
<text x="262.40" y="287.20" font-size="11.3" font-weight="bold" text-anchor="middle" fill="#000" transform="rotate(-90 262.40 287.20)">S1P</text>
<text x="400.90" y="353.30" font-size="11.1" font-weight="bold" text-anchor="middle" fill="#000">Time (h)</text>
<line x1="279.50" y1="267.81" x2="279.50" y2="288.29" stroke="#2a2a2a" stroke-width="0.7"/>
<line x1="278.40" y1="267.81" x2="280.60" y2="267.81" stroke="#2a2a2a" stroke-width="0.7"/>
<line x1="278.40" y1="288.29" x2="280.60" y2="288.29" stroke="#2a2a2a" stroke-width="0.7"/>
<line x1="281.45" y1="267.81" x2="281.45" y2="290.34" stroke="#2a2a2a" stroke-width="0.7"/>
<line x1="280.35" y1="267.81" x2="282.55" y2="267.81" stroke="#2a2a2a" stroke-width="0.7"/>
<line x1="280.35" y1="290.34" x2="282.55" y2="290.34" stroke="#2a2a2a" stroke-width="0.7"/>
<line x1="283.39" y1="262.18" x2="283.39" y2="288.80" stroke="#2a2a2a" stroke-width="0.7"/>
<line x1="282.29" y1="262.18" x2="284.49" y2="262.18" stroke="#2a2a2a" stroke-width="0.7"/>
<line x1="282.29" y1="288.80" x2="284.49" y2="288.80" stroke="#2a2a2a" stroke-width="0.7"/>
<line x1="287.28" y1="270.37" x2="287.28" y2="286.24" stroke="#2a2a2a" stroke-width="0.7"/>
<line x1="286.18" y1="270.37" x2="288.38" y2="270.37" stroke="#2a2a2a" stroke-width="0.7"/>
<line x1="286.18" y1="286.24" x2="288.38" y2="286.24" stroke="#2a2a2a" stroke-width="0.7"/>
<line x1="310.63" y1="255.01" x2="310.63" y2="282.15" stroke="#2a2a2a" stroke-width="0.7"/>
<line x1="309.53" y1="255.01" x2="311.73" y2="255.01" stroke="#2a2a2a" stroke-width="0.7"/>
<line x1="309.53" y1="282.15" x2="311.73" y2="282.15" stroke="#2a2a2a" stroke-width="0.7"/>
<line x1="326.20" y1="267.30" x2="326.20" y2="287.01" stroke="#2a2a2a" stroke-width="0.7"/>
<line x1="325.10" y1="267.30" x2="327.30" y2="267.30" stroke="#2a2a2a" stroke-width="0.7"/>
<line x1="325.10" y1="287.01" x2="327.30" y2="287.01" stroke="#2a2a2a" stroke-width="0.7"/>
<line x1="349.55" y1="269.09" x2="349.55" y2="301.09" stroke="#2a2a2a" stroke-width="0.7"/>
<line x1="348.45" y1="269.09" x2="350.65" y2="269.09" stroke="#2a2a2a" stroke-width="0.7"/>
<line x1="348.45" y1="301.09" x2="350.65" y2="301.09" stroke="#2a2a2a" stroke-width="0.7"/>
<line x1="466.29" y1="266.79" x2="466.29" y2="294.95" stroke="#2a2a2a" stroke-width="0.7"/>
<line x1="465.19" y1="266.79" x2="467.39" y2="266.79" stroke="#2a2a2a" stroke-width="0.7"/>
<line x1="465.19" y1="294.95" x2="467.39" y2="294.95" stroke="#2a2a2a" stroke-width="0.7"/>
<path d="M279.50,278.05 C280.47,278.69 280.47,279.91 281.45,279.33 C282.42,278.75 282.42,275.87 283.39,275.75 C284.85,275.55 285.34,279.09 287.28,278.56 C290.20,277.77 298.96,268.63 310.63,268.32 C318.42,268.12 318.42,274.11 326.20,277.54 C337.87,282.68 337.87,285.22 349.55,285.47 C367.06,285.86 431.27,282.07 466.29,280.61" fill="none" stroke="#000" stroke-width="1.4"/>
<circle cx="279.50" cy="278.05" r="2.0" fill="#000"/>
<circle cx="281.45" cy="279.33" r="2.0" fill="#000"/>
<circle cx="283.39" cy="275.75" r="2.0" fill="#000"/>
<circle cx="287.28" cy="278.56" r="2.0" fill="#000"/>
<circle cx="310.63" cy="268.32" r="2.0" fill="#000"/>
<circle cx="326.20" cy="277.54" r="2.0" fill="#000"/>
<circle cx="349.55" cy="285.47" r="2.0" fill="#000"/>
<circle cx="466.29" cy="280.61" r="2.0" fill="#000"/>
</g>
</svg>
</body></html>
